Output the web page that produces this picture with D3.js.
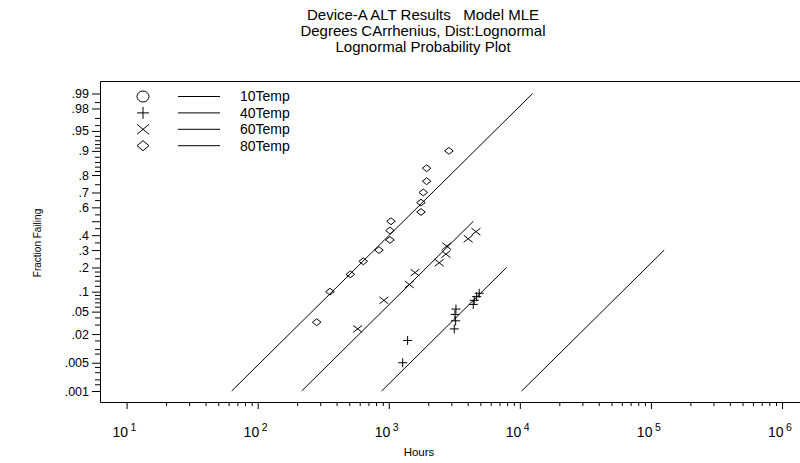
<!DOCTYPE html>
<html>
<head>
<meta charset="utf-8">
<script src="https://cdn.jsdelivr.net/npm/d3@7/dist/d3.min.js"></script>
<style>
	body { margin: 0; background: #fff; }
	svg { display: block; font-family: "Liberation Sans", Arial, sans-serif; }
</style>
</head>
<body>
<svg id="chart" width="800" height="463"></svg>
<script>
/*global d3 */
(function () {
	'use strict';

	// titles and labels
	var titleLines = ['Device-A ALT Results   Model MLE', 'Degrees CArrhenius, Dist:Lognormal', 'Lognormal Probability Plot'];
	var xTitle = 'Hours';
	var yTitle = 'Fraction Failing';

	// legend
	var seriesNames = ['10Temp', '40Temp', '60Temp', '80Temp'];
	var seriesSymbols = ['circle', 'plus', 'cross', 'diamond'];

	// failure points (hours, plotted fraction)
	var hours40 = [1277, 1393, 3161, 3237, 3199, 3255, 4412, 4487, 4683, 4898];
	var frac40 = [0.005, 0.015, 0.025, 0.035, 0.045, 0.055, 0.065, 0.075, 0.085, 0.095];
	var hours60 = [579, 918, 1434, 1585, 2427, 2731, 2765, 4037, 4624];
	var frac60 = [0.025, 0.075, 0.125, 0.175, 0.225, 0.275, 0.325, 0.375, 0.425];
	var hours80 = [282, 356, 509, 639, 841, 1021, 1021, 1039, 1761, 1761, 1833, 1945, 1945, 2877];
	var frac80 = [0.033, 0.1, 0.167, 0.233, 0.3, 0.367, 0.433, 0.5, 0.567, 0.633, 0.7, 0.767, 0.833, 0.9];

	// fitted lognormal lines: median hours per stress, common sigma, fraction range drawn
	var fitMedian = [210700, 18020, 4422, 1293];
	var fitSigma = 0.976;
	var fitLowF = 0.001;
	var fitTopF = [0.3, 0.2, 0.5, 0.99];

	// axis ticks
	var fracMajor = [0.99, 0.98, 0.95, 0.9, 0.8, 0.7, 0.6, 0.5, 0.4, 0.3, 0.2, 0.1, 0.05, 0.02, 0.005, 0.001];
	var fracLabels = ['.99', '.98', '.95', '.9', '.8', '.7', '.6', '', '.4', '.3', '.2', '.1', '.05', '.02', '.005', '.001'];
	var fracMinor = [0.985, 0.97, 0.96, 0.94, 0.93, 0.92, 0.91, 0.88, 0.86, 0.84, 0.82, 0.75, 0.65, 0.55, 0.45,
		0.35, 0.25, 0.18, 0.16, 0.14, 0.12, 0.09, 0.08, 0.07, 0.06, 0.04, 0.03, 0.015, 0.01, 0.008,
		0.004, 0.003, 0.002, 0.0015];
	var hourDecades = [1e1, 1e2, 1e3, 1e4, 1e5, 1e6];
	var decadeExp = ['1', '2', '3', '4', '5', '6'];

	var svg, x, z, yF, probit, symbolPath, points, left, right, top, bottom;

	left = 100;
	right = 800;
	top = 81.5;
	bottom = 402.5;

	// inverse normal cdf (Acklam)
	probit = function (p) {
		var a = [-39.69683028665376, 220.9460984245205, -275.9285104469687, 138.3577518672690, -30.66479806614716, 2.506628277459239],
			b = [-54.47609879822406, 161.5858368580409, -155.6989798598866, 66.80131188771972, -13.28068155288572],
			c = [-0.007784894002430293, -0.3223964580411365, -2.400758277161838, -2.549732539343734, 4.374664141464968, 2.938163982698783],
			d = [0.007784695709041462, 0.3224671290700398, 2.445134137142996, 3.754408661907416],
			pl = 0.02425, q, r;
		if (p < pl) {
			q = Math.sqrt(-2 * Math.log(p));
			return (((((c[0] * q + c[1]) * q + c[2]) * q + c[3]) * q + c[4]) * q + c[5]) / ((((d[0] * q + d[1]) * q + d[2]) * q + d[3]) * q + 1);
		}
		if (p > 1 - pl) {
			q = Math.sqrt(-2 * Math.log(1 - p));
			return -(((((c[0] * q + c[1]) * q + c[2]) * q + c[3]) * q + c[4]) * q + c[5]) / ((((d[0] * q + d[1]) * q + d[2]) * q + d[3]) * q + 1);
		}
		q = p - 0.5;
		r = q * q;
		return (((((a[0] * r + a[1]) * r + a[2]) * r + a[3]) * r + a[4]) * r + a[5]) * q / (((((b[0] * r + b[1]) * r + b[2]) * r + b[3]) * r + b[4]) * r + 1);
	};

	symbolPath = function (type, w, h) {
		if (type === 'circle') {
			return 'M' + (-w) + ',0A' + w + ',' + h + ' 0 1,0 ' + w + ',0A' + w + ',' + h + ' 0 1,0 ' + (-w) + ',0';
		} else if (type === 'plus') {
			return 'M' + (-w) + ',0H' + w + 'M0,' + (-h) + 'V' + h;
		} else if (type === 'cross') {
			return 'M' + (-w) + ',' + (-h) + 'L' + w + ',' + h + 'M' + (-w) + ',' + h + 'L' + w + ',' + (-h);
		}
		return 'M0,' + (-h) + 'L' + w + ',0L0,' + h + 'L' + (-w) + ',0Z';
	};

	svg = d3.select('#chart');

	// scales: log hours, probit fraction
	x = d3.scaleLog().domain([10, 1e6]).range([126.6, 782]);
	z = d3.scaleLinear().domain([probit(0.001), probit(0.99)]).range([391, 93.5]);
	yF = function (f) { return z(probit(f)); };

	// titles
	svg.append('g')
		.attr('font-size', 15)
		.attr('text-anchor', 'middle')
		.selectAll('text').data(titleLines).enter().append('text')
		.attr('x', 423)
		.attr('y', function (d, i) { return 19.5 + i * 16.2; })
		.attr('xml:space', 'preserve')
		.style('white-space', 'pre')
		.text(function (d) { return d; });

	// frame
	svg.append('path')
		.attr('d', 'M' + right + ',' + top + 'H' + (left + 0.5) + 'V' + bottom + 'H' + right)
		.attr('fill', 'none')
		.attr('stroke', '#000');

	// y axis
	svg.append('g')
		.attr('transform', 'translate(' + left + ',0)')
		.call(d3.axisLeft(z).tickValues(fracMajor.map(probit)).tickSize(8)
			.tickFormat(function (d, i) { return fracLabels[i]; }))
		.call(function (g) {
			g.select('.domain').remove();
			g.attr('font-family', null).attr('font-size', 12.5);
			g.selectAll('text').attr('fill', '#000').attr('x', -11);
		});
	svg.append('g')
		.attr('transform', 'translate(' + left + ',0)')
		.call(d3.axisLeft(z).tickValues(fracMinor.map(probit)).tickSize(5).tickFormat(''))
		.call(function (g) { g.select('.domain').remove(); });

	// x axis
	svg.append('g')
		.attr('transform', 'translate(0,' + (bottom - 0.5) + ')')
		.call(d3.axisBottom(x).tickValues(hourDecades).tickSize(7).tickFormat(''))
		.call(function (g) { g.select('.domain').remove(); });
	svg.append('g')
		.attr('transform', 'translate(0,' + (bottom - 0.5) + ')')
		.call(d3.axisBottom(x).tickValues(x.ticks().filter(function (d) {
			return hourDecades.indexOf(d) < 0;
		})).tickSize(4).tickFormat(''))
		.call(function (g) { g.select('.domain').remove(); });

	// decade labels 10^n
	points = svg.append('g').selectAll('g.dec').data(hourDecades).enter().append('g')
		.attr('class', 'dec')
		.attr('transform', function (d) { return 'translate(' + x(d) + ',437)'; });
	points.append('text')
		.attr('x', 1.5)
		.attr('text-anchor', 'end')
		.attr('font-size', 14)
		.text('10');
	points.append('text')
		.attr('x', 4)
		.attr('y', -6)
		.attr('font-size', 10.5)
		.text(function (d, i) { return decadeExp[i]; });

	// axis titles
	svg.append('text')
		.attr('x', 419)
		.attr('y', 456)
		.attr('text-anchor', 'middle')
		.attr('font-size', 11.5)
		.text(xTitle);
	svg.append('text')
		.attr('transform', 'translate(41,243) rotate(-90)')
		.attr('text-anchor', 'middle')
		.attr('font-size', 10)
		.text(yTitle);

	// fitted lines
	svg.append('g')
		.selectAll('line').data(fitMedian).enter().append('line')
		.attr('x1', function (d) { return x(d * Math.exp(fitSigma * probit(fitLowF))); })
		.attr('y1', yF(fitLowF))
		.attr('x2', function (d, i) { return x(d * Math.exp(fitSigma * probit(fitTopF[i]))); })
		.attr('y2', function (d, i) { return yF(fitTopF[i]); })
		.attr('stroke', '#000')
		.attr('stroke-width', 1);

	// data points
	[[hours40, frac40, 'plus', 4.5, 4.5], [hours60, frac60, 'cross', 4.5, 3.5], [hours80, frac80, 'diamond', 4.3, 3.4]]
		.forEach(function (s) {
			svg.append('g')
				.selectAll('path').data(s[0]).enter().append('path')
				.attr('transform', function (d, i) { return 'translate(' + x(d) + ',' + yF(s[1][i]) + ')'; })
				.attr('d', symbolPath(s[2], s[3], s[4]))
				.attr('fill', 'none')
				.attr('stroke', '#000');
		});

	// legend
	points = svg.append('g').selectAll('g.leg').data(seriesNames).enter().append('g')
		.attr('class', 'leg')
		.attr('transform', function (d, i) { return 'translate(0,' + (96.5 + i * 16.4) + ')'; });
	points.append('path')
		.attr('transform', 'translate(143,0)')
		.attr('d', function (d, i) {
			var t = seriesSymbols[i];
			return symbolPath(t, 6, t === 'circle' ? 5.5 : (t === 'plus' ? 6 : 5));
		})
		.attr('fill', 'none')
		.attr('stroke', '#000');
	points.append('line')
		.attr('x1', 178).attr('x2', 220)
		.attr('stroke', '#000');
	points.append('text')
		.attr('x', 240)
		.attr('dy', '0.35em')
		.attr('font-size', 14)
		.text(function (d) { return d; });
}());
</script>
</body>
</html>
